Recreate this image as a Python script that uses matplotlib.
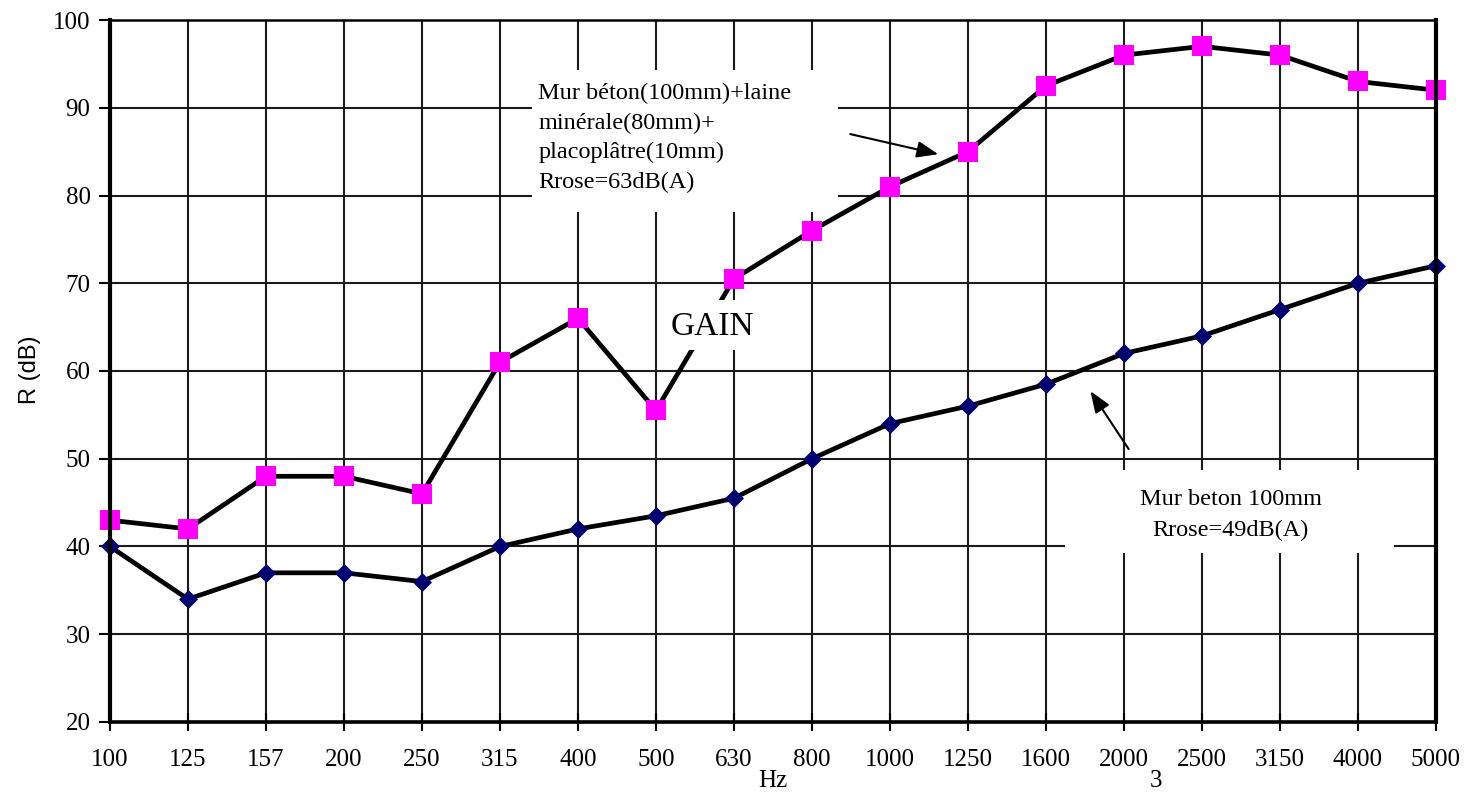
import matplotlib
matplotlib.use("Agg")
import matplotlib.pyplot as plt
from matplotlib.patches import Rectangle

# Frequency bands (Hz) and sound reduction index R (dB)
freqs = ["100", "125", "157", "200", "250", "315", "400", "500", "630",
         "800", "1000", "1250", "1600", "2000", "2500", "3150", "4000", "5000"]
r_doublage = [43, 42, 48, 48, 46, 61, 66, 55.5, 70.5,
              76, 81, 85, 92.5, 96, 97, 96, 93, 92]
r_beton = [40, 34, 37, 37, 36, 40, 42, 43.5, 45.5,
           50, 54, 56, 58.5, 62, 64, 67, 70, 72]
y_ticks = [20, 30, 40, 50, 60, 70, 80, 90, 100]

label_doublage = ("Mur béton(100mm)+laine\nminérale(80mm)+\n"
                  "placoplâtre(10mm)\nRrose=63dB(A)")
label_beton = "Mur beton 100mm\nRrose=49dB(A)"

serif = "Liberation Serif"

fig = plt.figure(figsize=(14.68, 7.94), dpi=100)
ax = fig.add_axes([0.0749, 0.0907, 0.9033, 0.8841])

x = list(range(len(freqs)))
ax.set_xlim(0, len(freqs) - 1)
ax.set_ylim(20, 100)

ax.set_xticks(x)
ax.set_xticklabels(freqs, fontfamily=serif, fontsize=18)
ax.set_yticks(y_ticks)
ax.set_yticklabels([str(v) for v in y_ticks], fontfamily=serif, fontsize=18)
ax.tick_params(axis="x", direction="inout", length=13, width=1.5, pad=13)
ax.tick_params(axis="y", direction="out", length=8, width=1.5, pad=6)

ax.grid(True, color="#1a1a1a", linewidth=1.5)
ax.set_axisbelow(True)

for side, lw in (("left", 3), ("right", 3), ("bottom", 2.6), ("top", 1.8)):
    ax.spines[side].set_linewidth(lw)
    ax.spines[side].set_color("black")
    ax.spines[side].set_zorder(6)

ax.plot(x, r_beton, color="black", linewidth=3.4, zorder=3, clip_on=False,
        marker="D", markersize=9, markerfacecolor="#000070",
        markeredgecolor="#000070", markeredgewidth=0.5)
ax.plot(x, r_doublage, color="black", linewidth=3.4, zorder=3, clip_on=False,
        marker="s", markersize=14.5, markerfacecolor="#ff00ff",
        markeredgecolor="#ff00ff", markeredgewidth=0)

# White label panels over the grid
boxes = [(5.41, 78.1, 3.92, 16.2), (12.25, 39.3, 4.21, 9.4),
         (7.05, 62.4, 1.32, 5.7)]
for bx, by, bw, bh in boxes:
    ax.add_patch(Rectangle((bx, by), bw, bh, facecolor="white",
                           edgecolor="none", zorder=4))

ax.text(5.49, 86.55, label_doublage, fontfamily=serif, fontsize=17.5,
        ha="left", va="center", linespacing=1.53, zorder=5)
ax.text(14.37, 43.6, label_beton, fontfamily=serif, fontsize=17.5,
        ha="center", va="center", linespacing=1.63, zorder=5)
ax.text(7.72, 65.0, "GAIN", fontfamily=serif, fontsize=24,
        ha="center", va="center", zorder=5)

arrow = dict(arrowstyle="-|>,head_length=1.3,head_width=0.5",
             color="black", linewidth=1.5, shrinkA=0, shrinkB=0)
ax.annotate("", xy=(10.62, 84.7), xytext=(9.49, 87.0),
            arrowprops=arrow, zorder=5)
ax.annotate("", xy=(12.57, 57.7), xytext=(13.06, 51.1),
            arrowprops=arrow, zorder=5)

fig.text(30 / 1468, 1 - 370 / 794, "R (dB)", rotation=90,
         fontfamily="Liberation Sans", fontsize=17, ha="center", va="center")
fig.text(773 / 1468, 1 - 781 / 794, "Hz", fontfamily=serif, fontsize=18,
         ha="center", va="center")
fig.text(1156 / 1468, 1 - 781 / 794, "3", fontfamily=serif, fontsize=18,
         ha="center", va="center")

fig.savefig("out.png", dpi=100, facecolor="white")
